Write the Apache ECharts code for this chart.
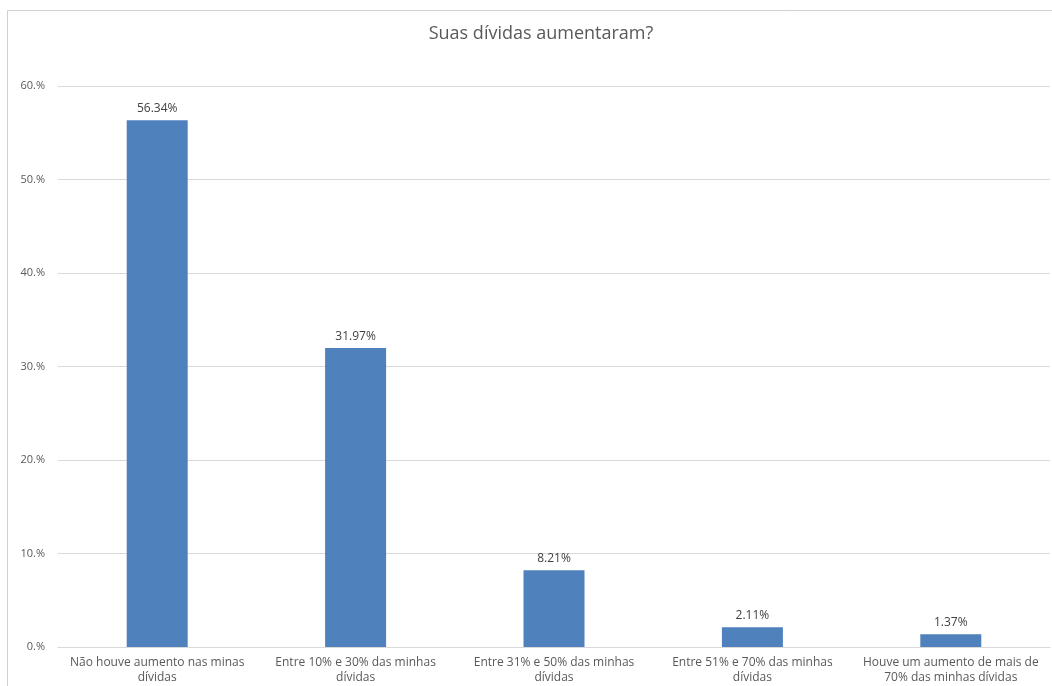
<!DOCTYPE html>
<html>
<head>
<meta charset="utf-8">
<script src="https://cdn.jsdelivr.net/npm/echarts@6/dist/echarts.min.js"></script>
<style>html,body{margin:0;padding:0;background:#fff}#c{width:1052px;height:686px}</style>
</head>
<body>
<div id="c"></div>
<script>
const title = 'Suas dívidas aumentaram?';
const categories = [
  'Não houve aumento nas minas\ndívidas',
  'Entre 10% e 30% das minhas\ndívidas',
  'Entre 31% e 50% das minhas\ndívidas',
  'Entre 51% e 70% das minhas\ndívidas',
  'Houve um aumento de mais de\n70% das minhas dívidas'
];
const values = [56.34, 31.97, 8.21, 2.11, 1.37];
const yTicks = [0, 10, 20, 30, 40, 50, 60];

const font = '"Open Sans", sans-serif';
const chart = echarts.init(document.getElementById('c'), null, {renderer: 'canvas'});
chart.setOption({
  animation: false,
  backgroundColor: '#fff',
  graphic: [{
    type: 'rect', shape: {x: 7.5, y: 10.5, width: 1060, height: 700},
    style: {fill: 'none', stroke: '#d0d0d0', lineWidth: 1}, silent: true, z: -1
  }],
  title: {
    text: title, left: 536, top: 20, textAlign: 'center',
    textStyle: {fontFamily: font, fontSize: 18, fontWeight: 'normal', color: '#595959'}
  },
  grid: {left: 58, right: 2, top: 86, bottom: 39, containLabel: false},
  xAxis: {
    type: 'category', data: categories,
    axisLine: {show: true, lineStyle: {color: '#d9d9d9'}},
    axisTick: {show: false},
    axisLabel: {fontFamily: font, fontSize: 12, color: '#595959', margin: 8, lineHeight: 15, interval: 0}
  },
  yAxis: {
    type: 'value', min: yTicks[0], max: yTicks[yTicks.length - 1], interval: 10,
    axisLine: {show: false}, axisTick: {show: false},
    splitLine: {lineStyle: {color: '#d9d9d9'}},
    axisLabel: {fontFamily: font, fontSize: 11, color: '#595959', margin: 13, formatter: v => v + '.%'}
  },
  series: [{
    type: 'bar', data: values, barWidth: 61,
    itemStyle: {color: '#4f81bd'},
    label: {show: true, position: 'top', distance: 6, fontFamily: font, fontSize: 12, color: '#404040',
      formatter: p => p.value.toFixed(2) + '%'}
  }]
});
</script>
</body>
</html>
